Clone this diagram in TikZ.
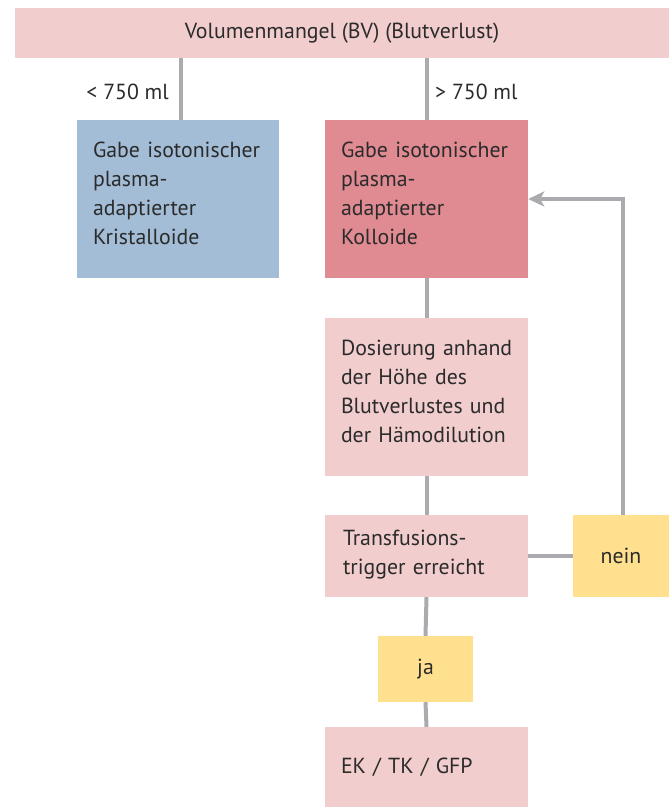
\documentclass[tikz,border=0pt]{standalone}
\usepackage{fontspec}
\setmainfont{PT Sans}
\usetikzlibrary{arrows.meta}
\definecolor{barpink}{HTML}{F2CDCD}
\definecolor{boxblue}{HTML}{A4BDD7}
\definecolor{boxred}{HTML}{E08A92}
\definecolor{boxyellow}{HTML}{FEE08F}
\definecolor{linegray}{HTML}{ABABAF}
\definecolor{txt}{HTML}{2B2B2B}
\tikzset{
  base/.style={inner sep=0pt, text=txt, font=\fontsize{21.8}{29}\selectfont},
  tbox/.style={base, text width=171pt, inner xsep=16pt, align=left, minimum height=#1},
  conn/.style={draw=linegray, line width=4pt},
}
\begin{document}
\begin{tikzpicture}[x=1pt,y=-1pt]
\useasboundingbox (0,0) rectangle (669,811);
\node[base, fill=barpink, minimum width=654pt, minimum height=50pt] (top) at (342,33) {Volumenmangel (BV) (Blutverlust)};
\node[tbox=158pt, fill=boxblue, text width=170pt] (blue) at (178,199) {Gabe isotonischer\\plasma-\\adaptierter\\Kristalloide\vspace{12pt}};
\node[tbox=158pt, fill=boxred] (red) at (426.5,199) {Gabe isotonischer\\plasma-\\adaptierter\\Kolloide\vspace{12pt}};
\node[tbox=158pt, fill=barpink] (dos) at (426.5,397) {\mbox{Dosierung anhand}\\der Höhe des\\\mbox{Blutverlustes und}\\\mbox{der Hämodilution}\vspace{12pt}};
\node[tbox=82pt, fill=barpink, inner xsep=18pt, text width=167pt] (trans) at (426.5,556) {Transfusions-\\trigger erreicht\vspace{2pt}};
\node[base, fill=boxyellow, minimum width=96pt, minimum height=82pt] (nein) at (621,556) {nein};
\node[base, fill=boxyellow, minimum width=95pt, minimum height=66pt] (ja) at (425.5,669) {ja};
\node[tbox=80pt, fill=barpink] (ek) at (426.5,767) {EK / TK / GFP};
\node[base, anchor=east] (lless) at (169,92) {< 750 ml};
\node[base, anchor=west] (lmore) at (435,92) {> 750 ml};
\draw[conn] (top.south -| 181,0) -- (blue.north -| 181,0);
\draw[conn] (top.south -| red.north) -- (red.north);
\draw[conn] (red.south) -- (dos.north);
\draw[conn] (dos.south) -- (trans.north);
\draw[conn] (trans.east) -- (nein.west);
\draw[conn] (trans.south) -- (ja.north);
\draw[conn] (ja.south) -- (ek.north);
\draw[conn, -{Stealth[length=16pt, width=15pt, inset=4pt]}] (nein.north -| 623,0) |- (red.east);
\end{tikzpicture}
\end{document}
